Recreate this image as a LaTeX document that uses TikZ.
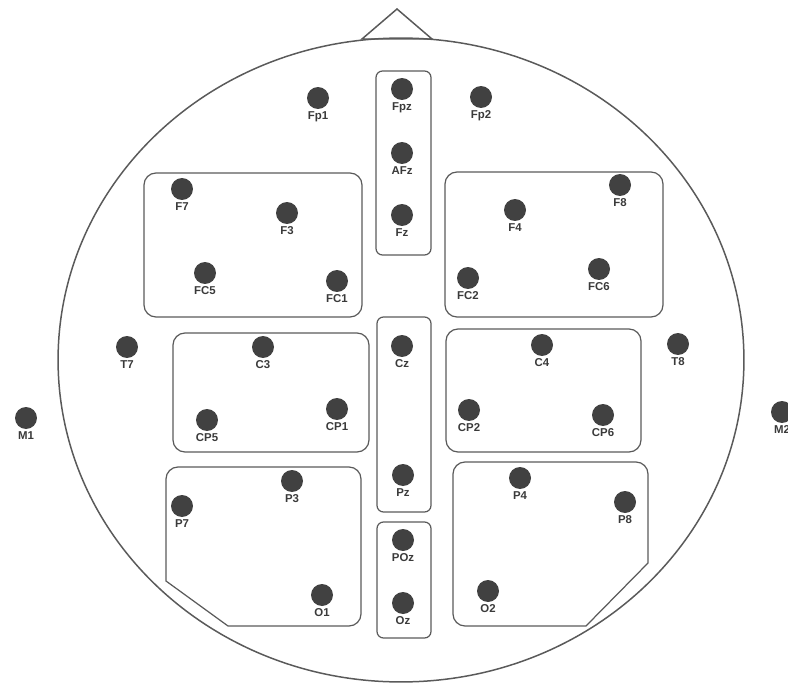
\documentclass[tikz,border=0pt]{standalone}
\usepackage{fontspec}
\setmainfont{Liberation Sans}
\usepackage{tikz}
\usetikzlibrary{positioning}

\definecolor{dotgray}{HTML}{414141}
\definecolor{boxgray}{HTML}{5A5A5A}
\definecolor{lblgray}{HTML}{3A3A3A}

\begin{document}
\begin{tikzpicture}[
    x=0.02cm, y=-0.02cm,
    label distance=0.4pt,
    elec/.style={circle, fill=dotgray, inner sep=0pt, minimum size=0.44cm},
    lbl/.style={font=\fontsize{6.5}{7}\selectfont\bfseries, text=lblgray, inner sep=0.6pt},
    outline/.style={draw=boxgray, line width=0.7pt},
    region/.style={outline, rounded corners=0.24cm},
    strip/.style={outline, rounded corners=0.13cm},
    head/.style={draw=boxgray, line width=0.85pt},
]
  \useasboundingbox (0,0) rectangle (788,686);

  % head and nose
  \draw[head] (401,360) ellipse [x radius=6.86cm, y radius=6.44cm];
  \draw[head] (362,39) -- (397,9) -- (432,39) -- cycle;

  % regions
  \draw[strip] (376,71) rectangle (431,255);
  \draw[strip] (377,317) rectangle (431,512);
  \draw[strip] (377,522) rectangle (431,638);
  \draw[region] (144,173) rectangle (362,317);
  \draw[region] (445,172) rectangle (663,317);
  \draw[region] (173,333) rectangle (369,452);
  \draw[region] (446,329) rectangle (641,452);
  \draw[outline] (166,581) [rounded corners=0.24cm] -- (166,467) -- (361,467) -- (361,626) [sharp corners] -- (228,626) -- cycle;
  \draw[outline] (648,563) [rounded corners=0.24cm] -- (648,462) -- (453,462) -- (453,626) [sharp corners] -- (586,626) -- cycle;

  % midline
  \node[elec, label={[lbl]below:Fpz}] (fpz) at (402,89) {};
  \node[elec, label={[lbl]below:AFz}] (afz) at (402,153) {};
  \node[elec, label={[lbl]below:Fz}] (fz) at (402,215) {};
  \node[elec, label={[lbl]below:Cz}] (cz) at (402,346) {};
  \node[elec, label={[lbl]below:Pz}] (pz) at (403,475) {};
  \node[elec, label={[lbl]below:POz}] (poz) at (403,540) {};
  \node[elec, label={[lbl]below:Oz}] (oz) at (403,603) {};

  % frontal
  \node[elec, label={[lbl]below:Fp1}] (fp1) at (318,98) {};
  \node[elec, label={[lbl]below:Fp2}] (fp2) at (481,97) {};
  \node[elec, label={[lbl]below:F7}] (f7) at (182,189) {};
  \node[elec, label={[lbl]below:F3}] (f3) at (287,213) {};
  \node[elec, label={[lbl]below:FC5}] (fc5) at (205,273) {};
  \node[elec, label={[lbl]below:FC1}] (fc1) at (337,281) {};
  \node[elec, label={[lbl]below:F4}] (f4) at (515,210) {};
  \node[elec, label={[lbl]below:F8}] (f8) at (620,185) {};
  \node[elec, label={[lbl]below:FC2}] (fc2) at (468,278) {};
  \node[elec, label={[lbl]below:FC6}] (fc6) at (599,269) {};

  % central and temporal
  \node[elec, label={[lbl]below:T7}] (t7) at (127,347) {};
  \node[elec, label={[lbl]below:T8}] (t8) at (678,344) {};
  \node[elec, label={[lbl]below:M1}] (m1) at (26,418) {};
  \node[elec, label={[lbl]below:M2}] (m2) at (782,412) {};
  \node[elec, label={[lbl]below:C3}] (c3) at (263,347) {};
  \node[elec, label={[lbl]below:CP5}] (cp5) at (207,420) {};
  \node[elec, label={[lbl]below:CP1}] (cp1) at (337,409) {};
  \node[elec, label={[lbl]below:C4}] (c4) at (542,345) {};
  \node[elec, label={[lbl]below:CP2}] (cp2) at (469,410) {};
  \node[elec, label={[lbl]below:CP6}] (cp6) at (603,415) {};

  % parietal and occipital
  \node[elec, label={[lbl]below:P7}] (p7) at (182,506) {};
  \node[elec, label={[lbl]below:P3}] (p3) at (292,481) {};
  \node[elec, label={[lbl]below:O1}] (o1) at (322,595) {};
  \node[elec, label={[lbl]below:P4}] (p4) at (520,478) {};
  \node[elec, label={[lbl]below:P8}] (p8) at (625,502) {};
  \node[elec, label={[lbl]below:O2}] (o2) at (488,591) {};
\end{tikzpicture}
\end{document}
